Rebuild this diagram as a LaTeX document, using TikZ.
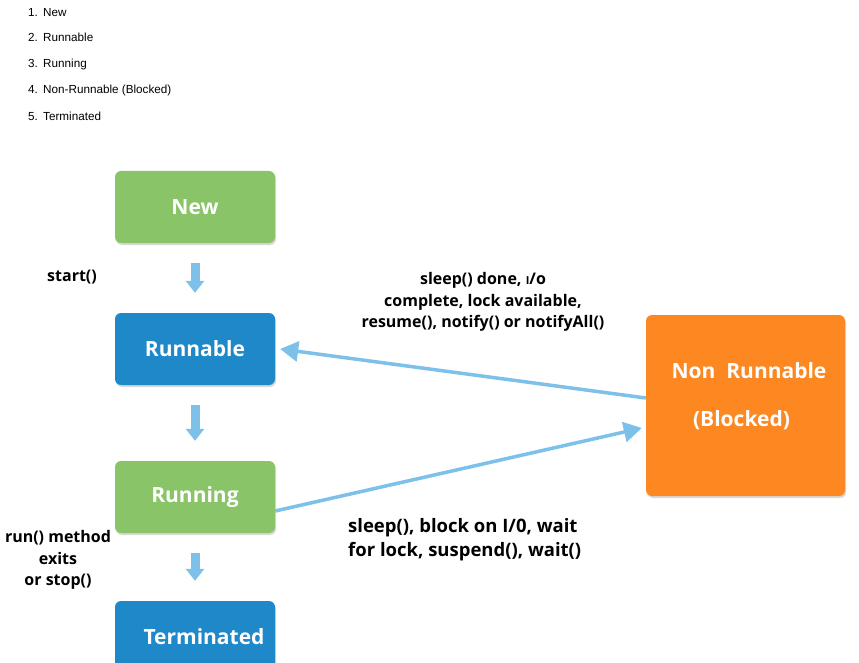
\documentclass[tikz,border=0pt]{standalone}
\usepackage{fontspec}
\setmainfont{Liberation Sans}
\newfontfamily\labelfont{Open Sans}
\usetikzlibrary{arrows.meta,shadows}
\definecolor{StateGreen}{RGB}{137,197,104}
\definecolor{StateBlue}{RGB}{30,136,200}
\definecolor{StateOrange}{RGB}{253,135,33}
\definecolor{FlowBlue}{RGB}{125,192,234}

\begin{document}
\begin{tikzpicture}[x=1pt,y=-1pt,
        stbox/.style={rounded corners=6pt,minimum width=160pt,minimum height=72pt,
                      text=white,font=\labelfont\bfseries\fontsize{21}{25}\selectfont,
                      drop shadow={opacity=0.3,shadow xshift=1pt,shadow yshift=-2pt}},
        stlabel/.style={text=white,font=\labelfont\bfseries\fontsize{21}{25}\selectfont},
        item/.style={anchor=base west,inner sep=0pt,font=\fontsize{11.7}{14}\selectfont},
        note/.style={align=center,inner sep=0pt,font=\labelfont\bfseries\fontsize{16}{21.5}\selectfont},
        drop/.style={-{Triangle[width=18pt,length=12pt]},line width=9pt,FlowBlue,
                     shorten <=20pt,shorten >=20pt},
        flow/.style={-{Triangle[width=20pt,length=18pt]},line width=3.5pt,FlowBlue}
      ]
        \clip (0,0) rectangle (859,663);
        \fill[white] (0,0) rectangle (859,663);
        % list of states
        \node[item] (item1) at (28,17)  {\makebox[15pt][l]{1.}New};
        \node[item] (item2) at (28,42)  {\makebox[15pt][l]{2.}Runnable};
        \node[item] (item3) at (28,68)  {\makebox[15pt][l]{3.}Running};
        \node[item] (item4) at (28,94)  {\makebox[15pt][l]{4.}Non-Runnable (Blocked)};
        \node[item] (item5) at (28,121) {\makebox[15pt][l]{5.}Terminated};
        % states
        \node[stbox,fill=StateGreen]  (new)      at (195,207) {New};
        \node[stbox,fill=StateBlue]   (runnable) at (195,349) {Runnable};
        \node[stbox,fill=StateGreen]  (running)  at (195,497) {Running};
        \node[stbox,fill=StateBlue]   (term)     at (195,637) {\hspace{18pt}Terminated};
        \node[stbox,fill=StateOrange,minimum width=199pt,minimum height=181pt]
              (nonrun) at (745.5,405.5) {};
        \node[stlabel] (nrtop) at (749,371)   {Non\ \ Runnable};
        \node[stlabel] (nrbot) at (741.5,420) {(Blocked)};
        % transitions
        \draw[drop] (new) -- (runnable);
        \draw[drop] (runnable) -- (running);
        \draw[drop] (running) -- (term);
        \draw[flow] ([yshift=7.5pt]nonrun.west) -- ([xshift=5pt]runnable.east);
        \draw[flow] ([yshift=-14pt]running.east) -- ([xshift=-4pt,yshift=-22.5pt]nonrun.west);
        % labels
        \node[note] (lstart) at (72,277) {start()};
        \node[note] (lwake)  at (483,302) {sleep() done, {\fontsize{11}{11}\selectfont I}/o\\
                                            complete, lock available,\\
                                            resume(), notify() or notifyAll()};
        \node[note] (lexit)  at (58,560) {run() method\\exits\\or stop()};
        \node[note,align=left,anchor=west,font=\labelfont\bfseries\fontsize{18.5}{24}\selectfont]
              (lblock) at (348,540) {sleep(), block on I/0, wait\\
                                     for lock, suspend(), wait()};
      \end{tikzpicture}
\end{document}
